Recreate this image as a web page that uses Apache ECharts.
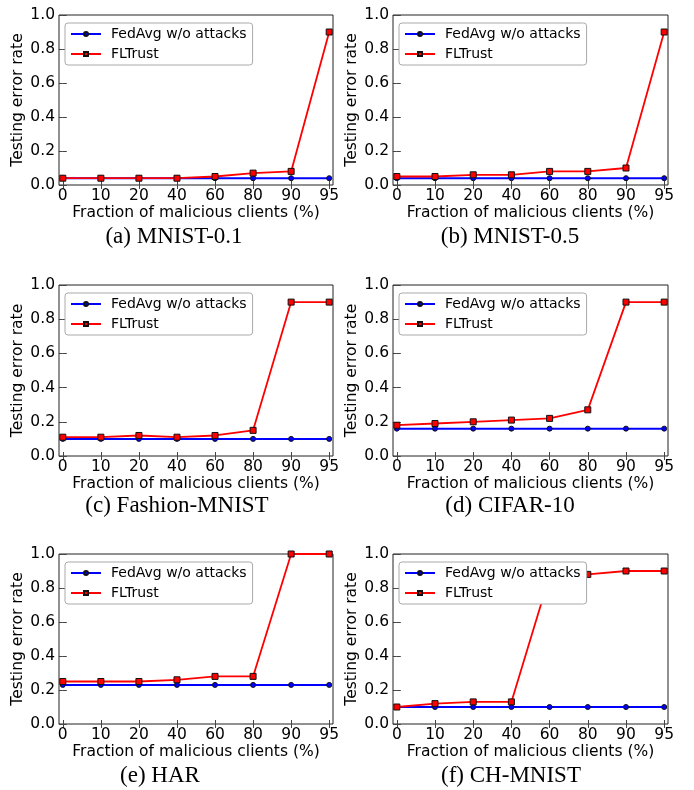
<!DOCTYPE html>
<html>
<head>
<meta charset="utf-8">
<script src="https://cdn.jsdelivr.net/npm/echarts@6/dist/echarts.min.js"></script>
<style>
  html, body { margin: 0; padding: 0; background: #fff; }
  #chart { width: 694px; height: 790px; }
</style>
</head>
<body>
<div id="chart"></div>
<script>
// Fraction of malicious clients (%) — x categories shared by every panel
const fractions = ['0', '10', '20', '40', '60', '80', '90', '95'];
const yTickValues = [0, 0.2, 0.4, 0.6, 0.8, 1.0];
const seriesNames = ['FedAvg w/o attacks', 'FLTrust'];
const captions = ['(a) MNIST-0.1', '(b) MNIST-0.5', '(c) Fashion-MNIST', '(d) CIFAR-10', '(e) HAR', '(f) CH-MNIST'];

// Testing error rate per dataset
const fedavgMnist01 = [0.04, 0.04, 0.04, 0.04, 0.04, 0.04, 0.04, 0.04];
const fltrustMnist01 = [0.04, 0.04, 0.04, 0.04, 0.05, 0.07, 0.08, 0.90];
const fedavgMnist05 = [0.04, 0.04, 0.04, 0.04, 0.04, 0.04, 0.04, 0.04];
const fltrustMnist05 = [0.05, 0.05, 0.06, 0.06, 0.08, 0.08, 0.10, 0.90];
const fedavgFashion = [0.10, 0.10, 0.10, 0.10, 0.10, 0.10, 0.10, 0.10];
const fltrustFashion = [0.11, 0.11, 0.12, 0.11, 0.12, 0.15, 0.90, 0.90];
const fedavgCifar = [0.16, 0.16, 0.16, 0.16, 0.16, 0.16, 0.16, 0.16];
const fltrustCifar = [0.18, 0.19, 0.20, 0.21, 0.22, 0.27, 0.90, 0.90];
const fedavgHar = [0.23, 0.23, 0.23, 0.23, 0.23, 0.23, 0.23, 0.23];
const fltrustHar = [0.25, 0.25, 0.25, 0.26, 0.28, 0.28, 1.00, 1.00];
const fedavgChMnist = [0.10, 0.10, 0.10, 0.10, 0.10, 0.10, 0.10, 0.10];
const fltrustChMnist = [0.10, 0.12, 0.13, 0.13, 0.87, 0.88, 0.90, 0.90];

const panelData = [
  [fedavgMnist01, fltrustMnist01],
  [fedavgMnist05, fltrustMnist05],
  [fedavgFashion, fltrustFashion],
  [fedavgCifar, fltrustCifar],
  [fedavgHar, fltrustHar],
  [fedavgChMnist, fltrustChMnist]
];

// Panel layout (plot areas and caption anchors)
const plotBoxes = [
  { left: 59, top: 15, width: 274, height: 170 },
  { left: 393, top: 15, width: 275, height: 170 },
  { left: 59, top: 285, width: 274, height: 171 },
  { left: 393, top: 285, width: 275, height: 171 },
  { left: 59, top: 554, width: 274, height: 170 },
  { left: 393, top: 554, width: 275, height: 170 }
];
const captionAnchors = [[174, 237], [510, 237], [177, 506], [510, 506], [160, 776], [511, 776]];

const SANS = 'DejaVu Sans';
const SERIF = 'Liberation Serif';
const frameColor = '#222';
const tickIdx = fractions.map((_, i) => i);

const grids = [], xAxes = [], yAxes = [], series = [], legends = [], graphics = [];

plotBoxes.forEach((box, p) => {
  grids.push({
    left: box.left, top: box.top, width: box.width, height: box.height,
    show: true, borderColor: frameColor, borderWidth: 1, backgroundColor: '#fff'
  });
  const xBase = {
    type: 'value', gridIndex: p, min: -0.1, max: 7.1,
    splitLine: { show: false },
    axisLine: { show: false }
  };
  // bottom axis with labels
  xAxes.push(Object.assign({}, xBase, {
    position: 'bottom',
    name: 'Fraction of malicious clients (%)',
    nameLocation: 'middle', nameGap: 20,
    nameTextStyle: { fontFamily: SANS, fontSize: 15.5, color: '#000' },
    axisTick: { show: true, inside: true, length: 4, customValues: tickIdx, lineStyle: { color: '#444' } },
    axisLabel: {
      show: true, customValues: tickIdx, margin: 3,
      fontFamily: SANS, fontSize: 15.5, color: '#000',
      formatter: v => fractions[Math.round(v)]
    }
  }));
  // top mirror axis (ticks only)
  xAxes.push(Object.assign({}, xBase, {
    position: 'top',
    axisTick: { show: true, inside: true, length: 4, customValues: tickIdx, lineStyle: { color: '#444' } },
    axisLabel: { show: false }
  }));
  const yBase = {
    type: 'value', gridIndex: p, min: 0, max: 1, interval: 0.2,
    splitLine: { show: false },
    axisLine: { show: false }
  };
  yAxes.push(Object.assign({}, yBase, {
    position: 'left',
    name: 'Testing error rate',
    nameLocation: 'middle', nameGap: 32,
    nameTextStyle: { fontFamily: SANS, fontSize: 15.5, color: '#000' },
    axisTick: { show: true, inside: true, length: 4, lineStyle: { color: '#444' } },
    axisLabel: {
      show: true, margin: 4, fontFamily: SANS, fontSize: 15.5, color: '#000',
      formatter: v => v.toFixed(1)
    }
  }));
  yAxes.push(Object.assign({}, yBase, {
    position: 'right',
    axisTick: { show: true, inside: true, length: 4, lineStyle: { color: '#444' } },
    axisLabel: { show: false }
  }));

  const [fed, flt] = panelData[p];
  series.push({
    name: seriesNames[0], type: 'line', xAxisIndex: 2 * p, yAxisIndex: 2 * p,
    data: fed.map((v, i) => [i, v]),
    symbol: 'circle', symbolSize: 5,
    lineStyle: { color: '#0000ff', width: 2 },
    itemStyle: { color: '#0000ff', borderColor: '#111', borderWidth: 1 },
    emphasis: { disabled: true }, animation: false, z: 2
  });
  series.push({
    name: seriesNames[1], type: 'line', xAxisIndex: 2 * p, yAxisIndex: 2 * p,
    data: flt.map((v, i) => [i, v]),
    symbol: 'rect', symbolSize: 6,
    lineStyle: { color: '#ff0000', width: 1.8 },
    itemStyle: { color: '#ff0000', borderColor: '#111', borderWidth: 1 },
    emphasis: { disabled: true }, animation: false, z: 3
  });

  legends.push({
    data: seriesNames,
    orient: 'vertical',
    left: box.left + 6, top: box.top + 8,
    itemWidth: 30, itemHeight: 5, itemGap: 4,
    padding: [3, 6, 3, 5],
    backgroundColor: '#fff',
    borderColor: '#aaa', borderWidth: 1, borderRadius: 3,
    selectedMode: false,
    textStyle: { fontFamily: SANS, fontSize: 14, color: '#000', padding: [0, 0, 0, 5], lineHeight: 16 }
  });

  graphics.push({
    type: 'text', x: captionAnchors[p][0], y: captionAnchors[p][1],
    style: {
      text: captions[p], fill: '#000',
      font: '23px "' + SERIF + '"',
      textAlign: 'center', textVerticalAlign: 'middle'
    }
  });
});

const chart = echarts.init(document.getElementById('chart'), null, { renderer: 'canvas' });
chart.setOption({
  backgroundColor: '#fff',
  animation: false,
  grid: grids,
  xAxis: xAxes,
  yAxis: yAxes,
  series: series,
  legend: legends,
  graphic: graphics
});
</script>
</body>
</html>
